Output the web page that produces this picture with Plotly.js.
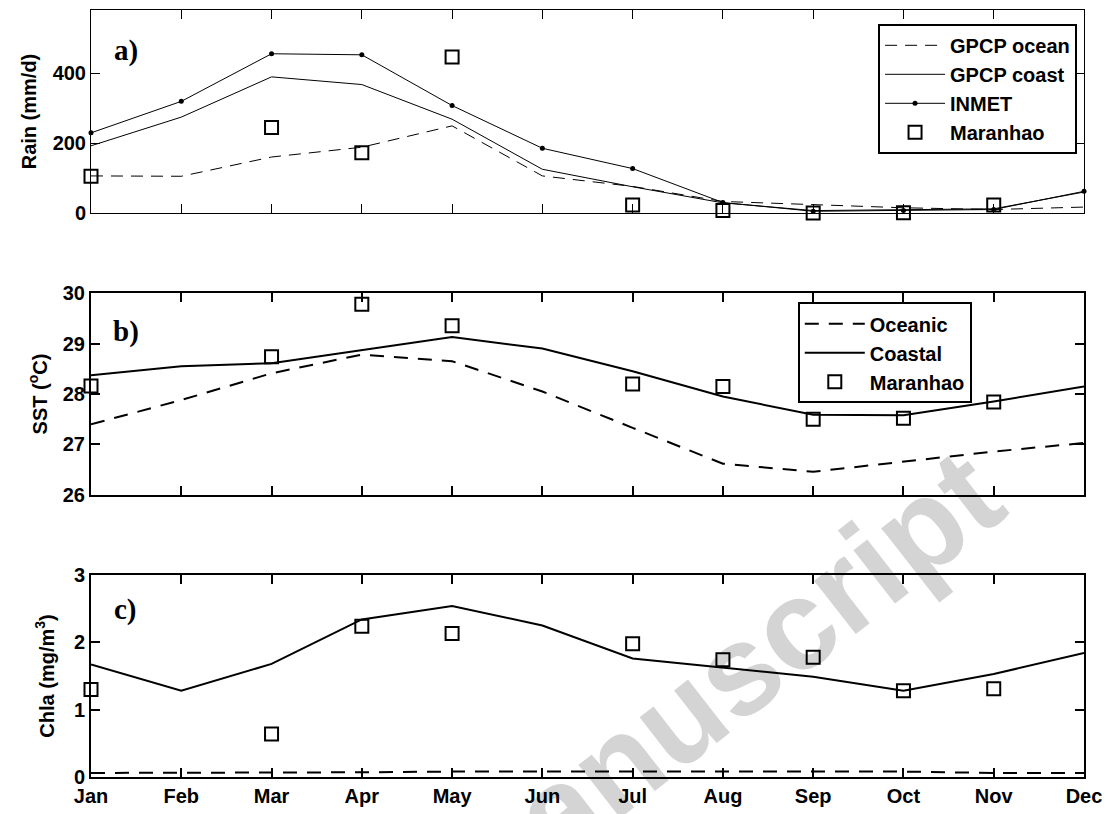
<!DOCTYPE html>
<html>
<head>
<meta charset="utf-8">
<script src="https://cdn.plot.ly/plotly-3.0.1.min.js"></script>
<style>
  html, body { margin:0; padding:0; background:#ffffff; }
  #wrap { position:relative; width:1112px; height:814px; overflow:hidden; background:#ffffff; }
  #wm { position:absolute; left:712px; top:690px; transform:translate(-50%,-50%) rotate(-38deg);
        font-family:Arial, 'Liberation Sans', sans-serif; font-weight:bold; font-size:128px;
        color:#d4d4d4; white-space:nowrap; z-index:0; }
  #chart { position:absolute; left:0; top:0; width:1112px; height:814px; z-index:1; }
</style>
</head>
<body>
<div id="wrap">
  <div id="wm">manuscript</div>
  <div id="chart"></div>
</div>
<script>
// ---- data ----
const months = ['Jan','Feb','Mar','Apr','May','Jun','Jul','Aug','Sep','Oct','Nov','Dec'];

// panel a: Rain (mm/d)
const rainGpcpOcean = [106, 105, 160, 188, 249, 106, 76, 33, 24, 15, 10, 17];
const rainGpcpCoast = [192, 274, 389, 367, 268, 125, 75, 29, 7, 9, 12, 60];
const rainInmet     = [229, 319, 455, 452, 307, 185, 127, 30, 5, 7, 10, 62];
const rainMaranhao  = [105, null, 244, 172, 446, null, 23, 7, 0, 1, 23, null];

// panel b: SST (degC)
const sstOceanic  = [27.4, 27.88, 28.41, 28.78, 28.65, 28.05, 27.33, 26.62, 26.46, 26.66, 26.86, 27.03];
const sstCoastal  = [28.37, 28.55, 28.61, 28.87, 29.13, 28.9, 28.45, 27.95, 27.59, 27.58, 27.85, 28.15];
const sstMaranhao = [28.16, null, 28.74, 29.78, 29.35, null, 28.2, 28.15, 27.5, 27.52, 27.84, null];

// panel c: Chla (mg/m3)
const chlaOceanic  = [0.06, 0.06, 0.07, 0.07, 0.08, 0.08, 0.08, 0.08, 0.09, 0.08, 0.06, 0.06];
const chlaCoastal  = [1.67, 1.28, 1.68, 2.34, 2.54, 2.25, 1.76, 1.62, 1.49, 1.28, 1.53, 1.84];
const chlaMaranhao = [1.3, null, 0.64, 2.24, 2.13, null, 1.98, 1.74, 1.78, 1.28, 1.31, null];

const rainTicks = [0, 200, 400];
const sstTicks  = [26, 27, 28, 29, 30];
const chlaTicks = [0, 1, 2, 3];

// ---- styles ----
const FONT = 'Arial, "Liberation Sans", sans-serif';
const tickFont = {family: FONT, size: 20, color: '#000', weight: 700};
const sq = (w) => ({symbol: 'square-open', size: 13, color: '#000', line: {width: w, color: '#000'}});

const traces = [
  {x: months, y: rainGpcpOcean, xaxis: 'x', yaxis: 'y', mode: 'lines', name: 'GPCP ocean',
   line: {color: '#000', width: 1, dash: '12px,8px'}, legend: 'legend', cliponaxis: false},
  {x: months, y: rainGpcpCoast, xaxis: 'x', yaxis: 'y', mode: 'lines', name: 'GPCP coast',
   line: {color: '#000', width: 1}, legend: 'legend', cliponaxis: false},
  {x: months, y: rainInmet, xaxis: 'x', yaxis: 'y', mode: 'lines+markers', name: 'INMET',
   line: {color: '#000', width: 1}, marker: {symbol: 'circle', size: 5, color: '#000'}, legend: 'legend', cliponaxis: false},
  {x: months, y: rainMaranhao, xaxis: 'x', yaxis: 'y', mode: 'markers', name: 'Maranhao',
   marker: sq(2), legend: 'legend', cliponaxis: false},

  {x: months, y: sstOceanic, xaxis: 'x2', yaxis: 'y2', mode: 'lines', name: 'Oceanic',
   line: {color: '#000', width: 2, dash: '14px,10px'}, legend: 'legend2', cliponaxis: false},
  {x: months, y: sstCoastal, xaxis: 'x2', yaxis: 'y2', mode: 'lines', name: 'Coastal',
   line: {color: '#000', width: 2}, legend: 'legend2', cliponaxis: false},
  {x: months, y: sstMaranhao, xaxis: 'x2', yaxis: 'y2', mode: 'markers', name: 'Maranhao',
   marker: sq(2), legend: 'legend2', cliponaxis: false},

  {x: months, y: chlaOceanic, xaxis: 'x3', yaxis: 'y3', mode: 'lines', name: 'Oceanic',
   line: {color: '#000', width: 2, dash: '14px,10px'}, showlegend: false, cliponaxis: false},
  {x: months, y: chlaCoastal, xaxis: 'x3', yaxis: 'y3', mode: 'lines', name: 'Coastal',
   line: {color: '#000', width: 2}, showlegend: false, cliponaxis: false},
  {x: months, y: chlaMaranhao, xaxis: 'x3', yaxis: 'y3', mode: 'markers', name: 'Maranhao',
   marker: sq(2), showlegend: false, cliponaxis: false}
];

function xax(anchor, lw, labels) {
  return {anchor: anchor, domain: [0, 1], type: 'category', categoryorder: 'array', categoryarray: months,
    range: [0, 11], showline: true, linecolor: '#000', linewidth: lw, mirror: 'allticks',
    ticks: 'inside', ticklen: 9, tickwidth: lw, tickcolor: '#000', showgrid: false, zeroline: false,
    showticklabels: labels, tickfont: tickFont, ticklabelstandoff: 0, fixedrange: true};
}
function yax(anchor, domain, range, tickvals, lw, title, standoff) {
  return {anchor: anchor, domain: domain, range: range, tickvals: tickvals, showline: true,
    linecolor: '#000', linewidth: lw, mirror: 'allticks', ticks: 'inside', ticklen: 9, tickwidth: lw,
    tickcolor: '#000', showgrid: false, zeroline: false, tickfont: tickFont,
    title: {text: title, font: {family: FONT, size: 20, color: '#000', weight: 700}, standoff: standoff}, fixedrange: true};
}

const serif = {family: '"Liberation Serif", "Times New Roman", serif', size: 29, color: '#000', weight: 700};

const layout = {
  width: 1112, height: 814,
  margin: {l: 91, r: 28, t: 10, b: 37},
  paper_bgcolor: 'rgba(0,0,0,0)', plot_bgcolor: 'rgba(0,0,0,0)',
  font: {family: FONT, color: '#000'},
  xaxis: xax('y', 1, false),
  xaxis2: xax('y2', 2, false),
  xaxis3: xax('y3', 2, true),
  yaxis: yax('x', [0.7353, 1], [0, 580], rainTicks, 1, 'Rain (mm/d)', 10),
  yaxis2: yax('x2', [0.3677, 0.631], [26, 30], sstTicks, 2, 'SST (<sup>o</sup>C)', 10),
  yaxis3: yax('x3', [0, 0.2634], [0, 3], chlaTicks, 2, 'Chla (mg/m<sup>3</sup>)', 14),
  legend: {x: 0.993, y: 0.982, xanchor: 'right', yanchor: 'top', xref: 'paper', yref: 'paper',
    bgcolor: '#fff', bordercolor: '#000', borderwidth: 2, itemwidth: 60,
    font: {family: FONT, size: 20, color: '#000', weight: 700}, tracegroupgap: 0},
  legend2: {x: 0.887, y: 0.619, xanchor: 'right', yanchor: 'top', xref: 'paper', yref: 'paper',
    bgcolor: '#fff', bordercolor: '#000', borderwidth: 2, itemwidth: 60,
    font: {family: FONT, size: 20, color: '#000', weight: 700}, tracegroupgap: 0},
  annotations: [
    {text: 'a)', xref: 'x domain', yref: 'y domain', x: 0.035, y: 0.8, xanchor: 'center', yanchor: 'middle', showarrow: false, font: serif},
    {text: 'b)', xref: 'x2 domain', yref: 'y2 domain', x: 0.035, y: 0.81, xanchor: 'center', yanchor: 'middle', showarrow: false, font: serif},
    {text: 'c)', xref: 'x3 domain', yref: 'y3 domain', x: 0.035, y: 0.83, xanchor: 'center', yanchor: 'middle', showarrow: false, font: serif}
  ],
  showlegend: true
};

Plotly.newPlot('chart', traces, layout, {displayModeBar: false, staticPlot: true});
</script>
</body>
</html>
